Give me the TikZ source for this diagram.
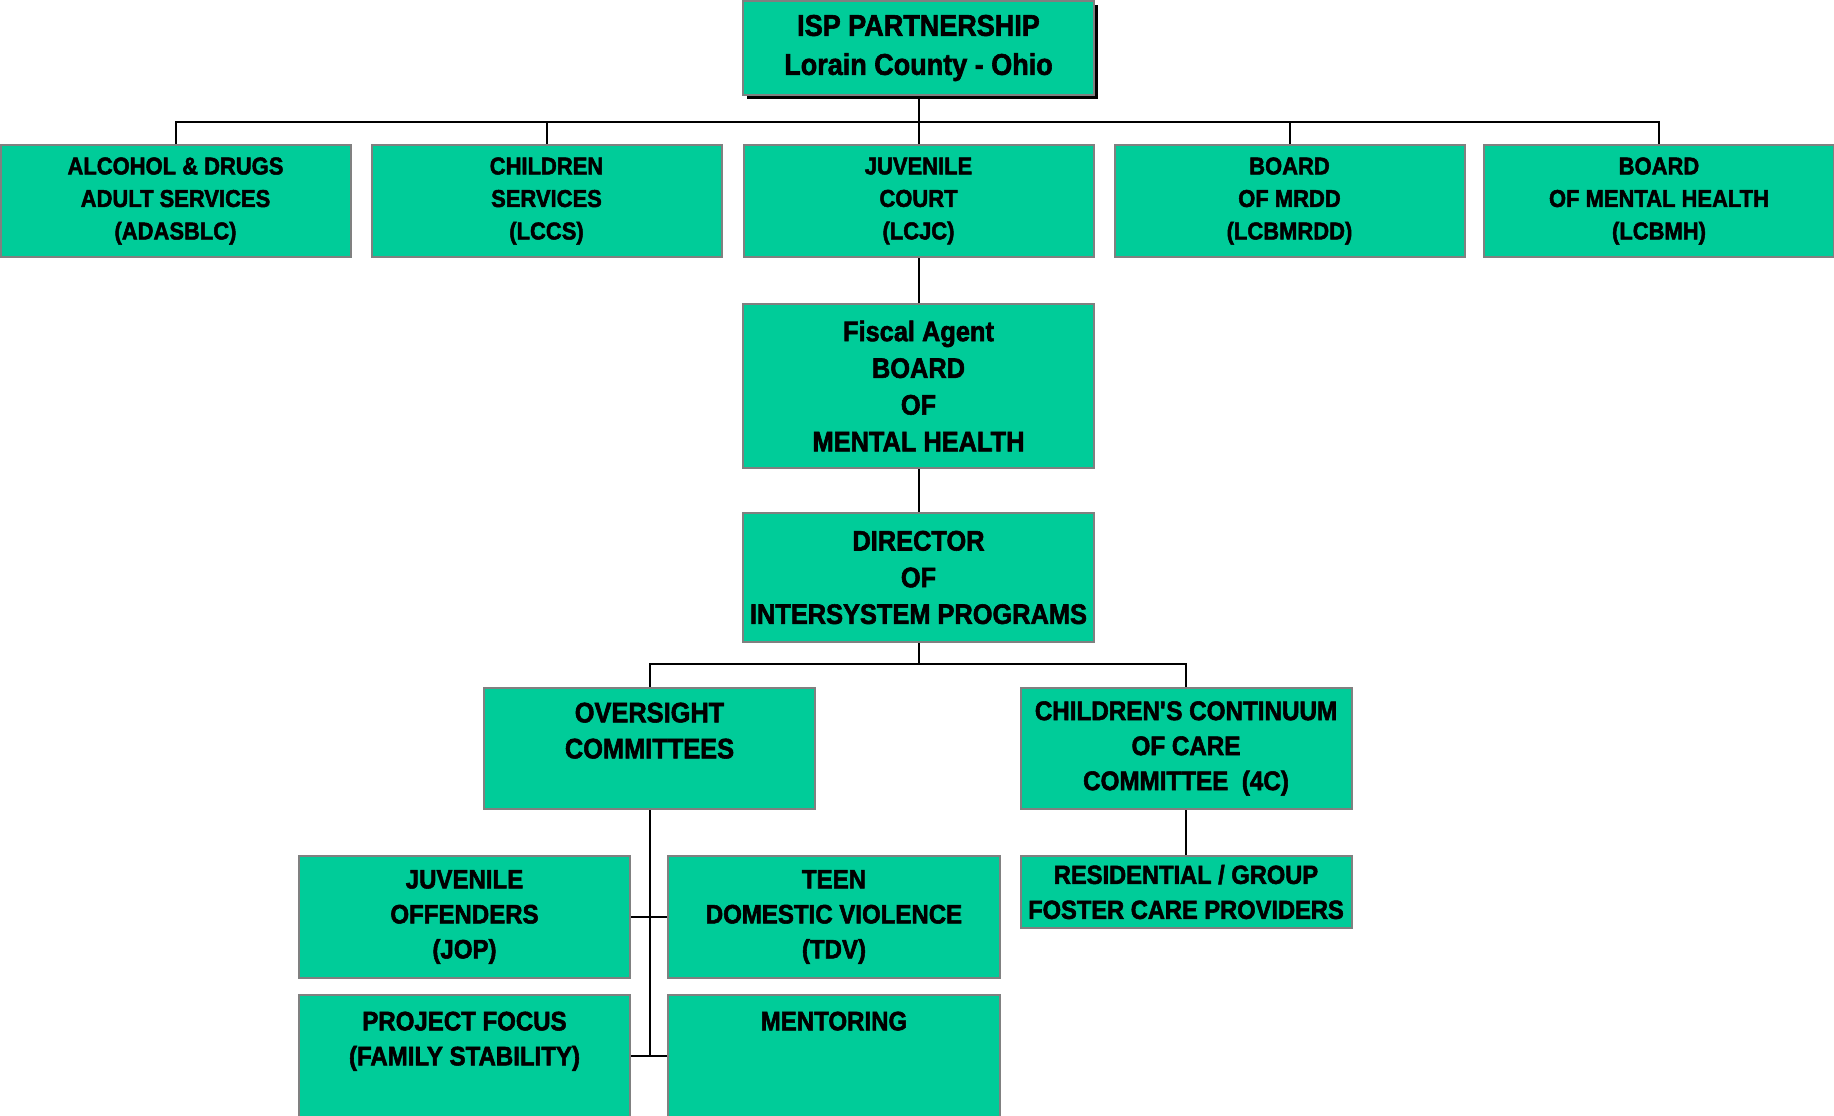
\documentclass[tikz,border=0pt]{standalone}
\usepackage{fontspec}
\setmainfont[FakeStretch=0.9, BoldFeatures={FakeBold=2}]{Liberation Sans}
\usetikzlibrary{shadows}
\definecolor{boxgreen}{HTML}{00CC99}
\definecolor{boxgray}{HTML}{808080}

\begin{document}
\begin{tikzpicture}[x=1pt, y=-1pt,
		unit/.style={draw=boxgray, fill=boxgreen, line width=2pt, inner sep=0pt, align=center},
		agency/.style={unit, minimum width=350pt, minimum height=112pt, font=\bfseries\fontsize{24.4}{32.5}\selectfont},
		office/.style={unit, minimum width=351pt, font=\bfseries\fontsize{28.2}{36.7}\selectfont},
		program/.style={unit, minimum width=331pt, minimum height=122pt, font=\bfseries\fontsize{26.7}{35}\selectfont},
		link/.style={line width=2pt, black}]
				\useasboundingbox (0,0) rectangle (1834,1116);
				% partnership
				\node[unit, minimum width=351pt, minimum height=94pt, font=\bfseries\fontsize{30}{39}\selectfont,
					drop shadow={shadow xshift=4pt, shadow yshift=-4pt, fill=black, opacity=1}] (isp) at (918.5,48) {ISP PARTNERSHIP\\Lorain County - Ohio};
				% agencies
				\node[agency] (ads) at (175.5,201) {ALCOHOL \& DRUGS\\ADULT SERVICES\\(ADASBLC)};
				\node[agency] (lccs) at (546.5,201) {CHILDREN\\SERVICES\\(LCCS)};
				\node[agency] (lcjc) at (918.5,201) {JUVENILE\\COURT\\(LCJC)};
				\node[agency] (mrdd) at (1289.5,201) {BOARD\\OF MRDD\\(LCBMRDD)};
				\node[agency] (lcbmh) at (1659,201) {BOARD\\OF MENTAL HEALTH\\(LCBMH)};
				% fiscal agent and director
				\node[office, minimum height=164pt] (fiscal) at (918.5,386) {Fiscal Agent\\BOARD\\OF\\MENTAL HEALTH};
				\node[office, minimum height=129pt] (dir) at (918.5,577.5) {DIRECTOR\\OF\\INTERSYSTEM PROGRAMS};
				% committees
				\node[program, minimum height=121pt, font=\bfseries\fontsize{28.2}{36}\selectfont] (over) at (649.5,748.5) {OVERSIGHT\\COMMITTEES\\~};
				\node[program, minimum height=121pt, font=\bfseries\fontsize{26.9}{35}\selectfont] (ccc) at (1186,748.5) {CHILDREN\textquotesingle S CONTINUUM\\OF CARE\\COMMITTEE\ \ (4C)};
				\node[program, minimum height=72pt, font=\bfseries\fontsize{26.3}{35}\selectfont] (res) at (1186,892) {RESIDENTIAL / GROUP\\FOSTER CARE PROVIDERS};
				% programs
				\node[program] (jop) at (464.5,917) {JUVENILE\\OFFENDERS\\(JOP)};
				\node[program, minimum width=332pt] (tdv) at (834,917) {TEEN\\DOMESTIC VIOLENCE\\(TDV)};
				\node[program] (pf) at (464.5,1056) {PROJECT FOCUS\\(FAMILY STABILITY)\\~};
				\node[program, minimum width=332pt] (ment) at (834,1056) {MENTORING\\~\\~};
				% connectors
				\coordinate (topbus) at (918.5,122);
				\coordinate (dirbus) at (918.5,664);
				\draw[link] (isp) -- (topbus);
				\foreach \n in {ads,lccs,lcjc,mrdd,lcbmh}
					\draw[link] (topbus) -| (\n.north);
				\draw[link] (lcjc) -- (fiscal);
				\draw[link] (fiscal) -- (dir);
				\draw[link] (dir) -- (dirbus);
				\draw[link] (dirbus) -| (over.north);
				\draw[link] (dirbus) -| (ccc.north);
				\draw[link] (ccc) -- (res);
				\draw[link] (over.south) -- (over.south |- pf.east);
				\draw[link] (jop.east) -- (tdv.west);
				\draw[link] (pf.east) -- (ment.west);
\end{tikzpicture}
\end{document}
